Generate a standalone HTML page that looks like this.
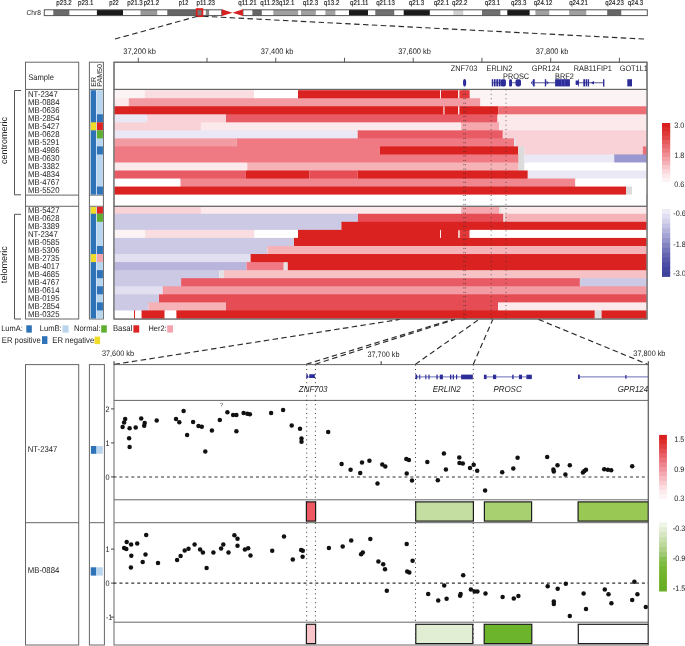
<!DOCTYPE html>
<html><head><meta charset="utf-8"><title>figure</title>
<style>
html,body{margin:0;padding:0;background:#fff;}
body{width:685px;height:646px;overflow:hidden;}
svg{display:block;font-family:"Liberation Sans", sans-serif;will-change:transform;text-rendering:geometricPrecision;}
</style></head>
<body>
<svg width="685" height="646" viewBox="0 0 685 646">
<rect x="0" y="0" width="685" height="646" fill="#fff"/>
<rect x="43.80" y="9.80" width="9.50" height="5.80" fill="#fff" />
<rect x="53.30" y="9.80" width="16.30" height="5.80" fill="#6a6a6a" />
<rect x="69.60" y="9.80" width="27.30" height="5.80" fill="#fff" />
<rect x="96.90" y="9.80" width="26.10" height="5.80" fill="#1a1a1a" />
<rect x="123.00" y="9.80" width="17.50" height="5.80" fill="#fff" />
<rect x="140.50" y="9.80" width="17.00" height="5.80" fill="#999" />
<rect x="157.50" y="9.80" width="9.80" height="5.80" fill="#fff" />
<rect x="167.30" y="9.80" width="28.70" height="5.80" fill="#666" />
<rect x="196.00" y="9.80" width="7.00" height="5.80" fill="#777" />
<rect x="203.00" y="9.80" width="2.80" height="5.80" fill="#fff" />
<rect x="205.80" y="9.80" width="3.50" height="5.80" fill="#888" />
<rect x="209.30" y="9.80" width="12.50" height="5.80" fill="#fff" />
<rect x="242.90" y="9.80" width="9.50" height="5.80" fill="#fff" />
<rect x="252.40" y="9.80" width="9.50" height="5.80" fill="#666" />
<rect x="261.90" y="9.80" width="11.40" height="5.80" fill="#fff" />
<rect x="273.30" y="9.80" width="25.10" height="5.80" fill="#a0a0a0" />
<rect x="298.40" y="9.80" width="2.60" height="5.80" fill="#fff" />
<rect x="301.00" y="9.80" width="14.90" height="5.80" fill="#a0a0a0" />
<rect x="315.90" y="9.80" width="9.50" height="5.80" fill="#fff" />
<rect x="325.40" y="9.80" width="10.20" height="5.80" fill="#a0a0a0" />
<rect x="335.60" y="9.80" width="13.40" height="5.80" fill="#fff" />
<rect x="349.00" y="9.80" width="19.00" height="5.80" fill="#1a1a1a" />
<rect x="368.00" y="9.80" width="7.30" height="5.80" fill="#fff" />
<rect x="375.30" y="9.80" width="19.20" height="5.80" fill="#707070" />
<rect x="394.50" y="9.80" width="9.20" height="5.80" fill="#fff" />
<rect x="403.70" y="9.80" width="26.20" height="5.80" fill="#1a1a1a" />
<rect x="429.90" y="9.80" width="23.40" height="5.80" fill="#fff" />
<rect x="453.30" y="9.80" width="10.20" height="5.80" fill="#cfcfcf" />
<rect x="463.50" y="9.80" width="18.50" height="5.80" fill="#fff" />
<rect x="482.00" y="9.80" width="18.60" height="5.80" fill="#707070" />
<rect x="500.60" y="9.80" width="6.70" height="5.80" fill="#fff" />
<rect x="507.30" y="9.80" width="22.50" height="5.80" fill="#1a1a1a" />
<rect x="529.80" y="9.80" width="5.60" height="5.80" fill="#fff" />
<rect x="535.40" y="9.80" width="14.10" height="5.80" fill="#a0a0a0" />
<rect x="549.50" y="9.80" width="19.70" height="5.80" fill="#fff" />
<rect x="569.20" y="9.80" width="17.30" height="5.80" fill="#a0a0a0" />
<rect x="586.50" y="9.80" width="20.70" height="5.80" fill="#fff" />
<rect x="607.20" y="9.80" width="14.30" height="5.80" fill="#666" />
<rect x="621.50" y="9.80" width="26.30" height="5.80" fill="#fff" />
<rect x="44.3" y="9.80" width="177.50" height="5.80" fill="none" stroke="#555" stroke-width="1"/>
<rect x="242.9" y="9.80" width="404.40" height="5.80" fill="none" stroke="#555" stroke-width="1"/>
<polygon points="221.8,9.3 232.5,12.7 221.8,16.1" fill="#d42020"/>
<polygon points="242.9,9.3 232.5,12.7 242.9,16.1" fill="#d42020"/>
<rect x="196.7" y="9.1" width="5.7" height="7.1" fill="none" stroke="#dd2020" stroke-width="1.8"/>
<text transform="translate(26.60,15.30) scale(1,1.09)" font-size="6.6" text-anchor="start" fill="#222" >Chr8</text>
<text transform="translate(64.00,5.00) scale(1,1.09)" font-size="6.5" text-anchor="middle" fill="#111" stroke="#111" stroke-width="0.12" textLength="15.5" lengthAdjust="spacingAndGlyphs">p23.2</text>
<text transform="translate(85.70,5.00) scale(1,1.09)" font-size="6.5" text-anchor="middle" fill="#111" stroke="#111" stroke-width="0.12" textLength="15.5" lengthAdjust="spacingAndGlyphs">p23.1</text>
<text transform="translate(114.00,5.00) scale(1,1.09)" font-size="6.5" text-anchor="middle" fill="#111" stroke="#111" stroke-width="0.12" textLength="9.5" lengthAdjust="spacingAndGlyphs">p22</text>
<text transform="translate(135.00,5.00) scale(1,1.09)" font-size="6.5" text-anchor="middle" fill="#111" stroke="#111" stroke-width="0.12" textLength="15.5" lengthAdjust="spacingAndGlyphs">p21.3</text>
<text transform="translate(151.40,5.00) scale(1,1.09)" font-size="6.5" text-anchor="middle" fill="#111" stroke="#111" stroke-width="0.12" textLength="15.5" lengthAdjust="spacingAndGlyphs">p21.2</text>
<text transform="translate(183.60,5.00) scale(1,1.09)" font-size="6.5" text-anchor="middle" fill="#111" stroke="#111" stroke-width="0.12" textLength="9.5" lengthAdjust="spacingAndGlyphs">p12</text>
<text transform="translate(205.80,5.00) scale(1,1.09)" font-size="6.5" text-anchor="middle" fill="#111" stroke="#111" stroke-width="0.12" textLength="18.5" lengthAdjust="spacingAndGlyphs">p11.23</text>
<text transform="translate(247.50,5.00) scale(1,1.09)" font-size="6.5" text-anchor="middle" fill="#111" stroke="#111" stroke-width="0.12" textLength="18.5" lengthAdjust="spacingAndGlyphs">q11.21</text>
<text transform="translate(269.60,5.00) scale(1,1.09)" font-size="6.5" text-anchor="middle" fill="#111" stroke="#111" stroke-width="0.12" textLength="18.5" lengthAdjust="spacingAndGlyphs">q11.23</text>
<text transform="translate(286.70,5.00) scale(1,1.09)" font-size="6.5" text-anchor="middle" fill="#111" stroke="#111" stroke-width="0.12" textLength="15.5" lengthAdjust="spacingAndGlyphs">q12.1</text>
<text transform="translate(310.40,5.00) scale(1,1.09)" font-size="6.5" text-anchor="middle" fill="#111" stroke="#111" stroke-width="0.12" textLength="15.5" lengthAdjust="spacingAndGlyphs">q12.3</text>
<text transform="translate(331.60,5.00) scale(1,1.09)" font-size="6.5" text-anchor="middle" fill="#111" stroke="#111" stroke-width="0.12" textLength="15.5" lengthAdjust="spacingAndGlyphs">q13.2</text>
<text transform="translate(359.30,5.00) scale(1,1.09)" font-size="6.5" text-anchor="middle" fill="#111" stroke="#111" stroke-width="0.12" textLength="18.5" lengthAdjust="spacingAndGlyphs">q21.11</text>
<text transform="translate(385.50,5.00) scale(1,1.09)" font-size="6.5" text-anchor="middle" fill="#111" stroke="#111" stroke-width="0.12" textLength="18.5" lengthAdjust="spacingAndGlyphs">q21.13</text>
<text transform="translate(416.50,5.00) scale(1,1.09)" font-size="6.5" text-anchor="middle" fill="#111" stroke="#111" stroke-width="0.12" textLength="15.5" lengthAdjust="spacingAndGlyphs">q21.3</text>
<text transform="translate(441.40,5.00) scale(1,1.09)" font-size="6.5" text-anchor="middle" fill="#111" stroke="#111" stroke-width="0.12" textLength="15.5" lengthAdjust="spacingAndGlyphs">q22.1</text>
<text transform="translate(459.80,5.00) scale(1,1.09)" font-size="6.5" text-anchor="middle" fill="#111" stroke="#111" stroke-width="0.12" textLength="15.5" lengthAdjust="spacingAndGlyphs">q22.2</text>
<text transform="translate(492.50,5.00) scale(1,1.09)" font-size="6.5" text-anchor="middle" fill="#111" stroke="#111" stroke-width="0.12" textLength="15.5" lengthAdjust="spacingAndGlyphs">q23.1</text>
<text transform="translate(518.70,5.00) scale(1,1.09)" font-size="6.5" text-anchor="middle" fill="#111" stroke="#111" stroke-width="0.12" textLength="15.5" lengthAdjust="spacingAndGlyphs">q23.3</text>
<text transform="translate(543.00,5.00) scale(1,1.09)" font-size="6.5" text-anchor="middle" fill="#111" stroke="#111" stroke-width="0.12" textLength="18.5" lengthAdjust="spacingAndGlyphs">q24.12</text>
<text transform="translate(578.50,5.00) scale(1,1.09)" font-size="6.5" text-anchor="middle" fill="#111" stroke="#111" stroke-width="0.12" textLength="18.5" lengthAdjust="spacingAndGlyphs">q24.21</text>
<text transform="translate(614.60,5.00) scale(1,1.09)" font-size="6.5" text-anchor="middle" fill="#111" stroke="#111" stroke-width="0.12" textLength="18.5" lengthAdjust="spacingAndGlyphs">q24.23</text>
<text transform="translate(635.50,5.00) scale(1,1.09)" font-size="6.5" text-anchor="middle" fill="#111" stroke="#111" stroke-width="0.12" textLength="15.5" lengthAdjust="spacingAndGlyphs">q24.3</text>
<line x1="197.50" y1="16.30" x2="114.30" y2="39.20" stroke="#2a2a2a" stroke-width="1.15" stroke-dasharray="5.5,3.4" />
<line x1="203.00" y1="16.30" x2="647.50" y2="39.20" stroke="#2a2a2a" stroke-width="1.15" stroke-dasharray="5.5,3.4" />
<line x1="138.30" y1="57.80" x2="138.30" y2="62.50" stroke="#444" stroke-width="0.9" />
<line x1="207.03" y1="57.80" x2="207.03" y2="62.50" stroke="#444" stroke-width="0.9" />
<line x1="275.76" y1="57.80" x2="275.76" y2="62.50" stroke="#444" stroke-width="0.9" />
<line x1="344.49" y1="57.80" x2="344.49" y2="62.50" stroke="#444" stroke-width="0.9" />
<line x1="413.22" y1="57.80" x2="413.22" y2="62.50" stroke="#444" stroke-width="0.9" />
<line x1="481.95" y1="57.80" x2="481.95" y2="62.50" stroke="#444" stroke-width="0.9" />
<line x1="550.68" y1="57.80" x2="550.68" y2="62.50" stroke="#444" stroke-width="0.9" />
<line x1="619.41" y1="57.80" x2="619.41" y2="62.50" stroke="#444" stroke-width="0.9" />
<text transform="translate(139.60,53.80) scale(1,1.09)" font-size="7.45" text-anchor="middle" fill="#222" >37,200 kb</text>
<text transform="translate(277.06,53.80) scale(1,1.09)" font-size="7.45" text-anchor="middle" fill="#222" >37,400 kb</text>
<text transform="translate(414.52,53.80) scale(1,1.09)" font-size="7.45" text-anchor="middle" fill="#222" >37,600 kb</text>
<text transform="translate(551.98,53.80) scale(1,1.09)" font-size="7.45" text-anchor="middle" fill="#222" >37,800 kb</text>
<rect x="25.50" y="62.20" width="53.20" height="256.80" fill="none" stroke="#666" stroke-width="1"/>
<line x1="25.50" y1="89.40" x2="78.70" y2="89.40" stroke="#666" stroke-width="1" />
<line x1="25.50" y1="195.10" x2="78.70" y2="195.10" stroke="#666" stroke-width="1" />
<line x1="25.50" y1="206.30" x2="78.70" y2="206.30" stroke="#666" stroke-width="1" />
<rect x="89.40" y="62.20" width="14.00" height="256.80" fill="none" stroke="#666" stroke-width="1"/>
<line x1="89.40" y1="89.40" x2="103.40" y2="89.40" stroke="#666" stroke-width="1" />
<line x1="89.40" y1="195.10" x2="103.40" y2="195.10" stroke="#666" stroke-width="1" />
<line x1="89.40" y1="206.30" x2="103.40" y2="206.30" stroke="#666" stroke-width="1" />
<rect x="114.00" y="62.20" width="533.00" height="256.80" fill="none" stroke="#666" stroke-width="1"/>
<line x1="114.00" y1="89.40" x2="647.00" y2="89.40" stroke="#666" stroke-width="1" />
<line x1="114.00" y1="206.30" x2="647.00" y2="206.30" stroke="#666" stroke-width="1" />
<text transform="translate(28.20,80.00) scale(1,1.09)" font-size="7.6" text-anchor="start" fill="#222" >Sample</text>
<text transform="translate(95.8,86.8) rotate(-90)" font-size="7.1" fill="#222">ER</text>
<text transform="translate(102.2,86.8) rotate(-90)" font-size="7.1" fill="#222">PAM50</text>
<text transform="translate(28.00,96.55) scale(1,1.09)" font-size="7.75" text-anchor="start" fill="#222" >NT-2347</text>
<text transform="translate(28.00,104.58) scale(1,1.09)" font-size="7.75" text-anchor="start" fill="#222" >MB-0884</text>
<text transform="translate(28.00,112.61) scale(1,1.09)" font-size="7.75" text-anchor="start" fill="#222" >MB-0636</text>
<text transform="translate(28.00,120.64) scale(1,1.09)" font-size="7.75" text-anchor="start" fill="#222" >MB-2854</text>
<text transform="translate(28.00,128.67) scale(1,1.09)" font-size="7.75" text-anchor="start" fill="#222" >MB-5427</text>
<text transform="translate(28.00,136.70) scale(1,1.09)" font-size="7.75" text-anchor="start" fill="#222" >MB-0628</text>
<text transform="translate(28.00,144.73) scale(1,1.09)" font-size="7.75" text-anchor="start" fill="#222" >MB-5291</text>
<text transform="translate(28.00,152.76) scale(1,1.09)" font-size="7.75" text-anchor="start" fill="#222" >MB-4986</text>
<text transform="translate(28.00,160.79) scale(1,1.09)" font-size="7.75" text-anchor="start" fill="#222" >MB-0630</text>
<text transform="translate(28.00,168.82) scale(1,1.09)" font-size="7.75" text-anchor="start" fill="#222" >MB-3382</text>
<text transform="translate(28.00,176.85) scale(1,1.09)" font-size="7.75" text-anchor="start" fill="#222" >MB-4834</text>
<text transform="translate(28.00,184.88) scale(1,1.09)" font-size="7.75" text-anchor="start" fill="#222" >MB-4767</text>
<text transform="translate(28.00,192.91) scale(1,1.09)" font-size="7.75" text-anchor="start" fill="#222" >MB-5520</text>
<text transform="translate(28.00,212.50) scale(1,1.09)" font-size="7.75" text-anchor="start" fill="#222" >MB-5427</text>
<text transform="translate(28.00,220.56) scale(1,1.09)" font-size="7.75" text-anchor="start" fill="#222" >MB-0628</text>
<text transform="translate(28.00,228.61) scale(1,1.09)" font-size="7.75" text-anchor="start" fill="#222" >MB-3389</text>
<text transform="translate(28.00,236.67) scale(1,1.09)" font-size="7.75" text-anchor="start" fill="#222" >NT-2347</text>
<text transform="translate(28.00,244.72) scale(1,1.09)" font-size="7.75" text-anchor="start" fill="#222" >MB-0585</text>
<text transform="translate(28.00,252.78) scale(1,1.09)" font-size="7.75" text-anchor="start" fill="#222" >MB-5306</text>
<text transform="translate(28.00,260.84) scale(1,1.09)" font-size="7.75" text-anchor="start" fill="#222" >MB-2735</text>
<text transform="translate(28.00,268.89) scale(1,1.09)" font-size="7.75" text-anchor="start" fill="#222" >MB-4017</text>
<text transform="translate(28.00,276.95) scale(1,1.09)" font-size="7.75" text-anchor="start" fill="#222" >MB-4685</text>
<text transform="translate(28.00,285.00) scale(1,1.09)" font-size="7.75" text-anchor="start" fill="#222" >MB-4767</text>
<text transform="translate(28.00,293.06) scale(1,1.09)" font-size="7.75" text-anchor="start" fill="#222" >MB-0614</text>
<text transform="translate(28.00,301.12) scale(1,1.09)" font-size="7.75" text-anchor="start" fill="#222" >MB-0195</text>
<text transform="translate(28.00,309.17) scale(1,1.09)" font-size="7.75" text-anchor="start" fill="#222" >MB-2854</text>
<text transform="translate(28.00,317.23) scale(1,1.09)" font-size="7.75" text-anchor="start" fill="#222" >MB-0325</text>
<rect x="90.00" y="90.20" width="0.70" height="104.39" fill="#d2e3f2" />
<rect x="90.70" y="90.20" width="5.30" height="104.39" fill="#2e72b8" />
<rect x="96.00" y="90.20" width="0.90" height="104.39" fill="#d2e3f2" />
<rect x="96.90" y="90.20" width="6.00" height="104.39" fill="#b9d6ee" />
<rect x="96.90" y="114.29" width="6.00" height="8.03" fill="#2e72b8" />
<rect x="90.70" y="122.32" width="5.30" height="8.03" fill="#f0dc28" />
<rect x="96.90" y="122.32" width="6.00" height="8.03" fill="#dc2424" />
<rect x="96.90" y="130.35" width="6.00" height="8.03" fill="#5fae30" />
<rect x="96.90" y="146.41" width="6.00" height="8.03" fill="#2e72b8" />
<rect x="96.90" y="186.56" width="6.00" height="8.03" fill="#2e72b8" />
<rect x="90.00" y="206.80" width="0.70" height="111.68" fill="#d2e3f2" />
<rect x="90.70" y="206.80" width="5.30" height="111.68" fill="#2e72b8" />
<rect x="96.00" y="206.80" width="0.90" height="111.68" fill="#d2e3f2" />
<rect x="96.90" y="206.80" width="6.00" height="111.68" fill="#b9d6ee" />
<rect x="90.70" y="206.80" width="5.30" height="6.96" fill="#f0dc28" />
<rect x="96.90" y="206.80" width="6.00" height="6.96" fill="#dc2424" />
<rect x="96.90" y="213.76" width="6.00" height="8.06" fill="#5fae30" />
<rect x="96.90" y="245.98" width="6.00" height="8.06" fill="#2e72b8" />
<rect x="90.70" y="254.04" width="5.30" height="8.06" fill="#f0dc28" />
<rect x="96.90" y="254.04" width="6.00" height="8.06" fill="#f4a4ac" />
<rect x="96.90" y="270.15" width="6.00" height="8.06" fill="#2e72b8" />
<rect x="96.90" y="286.26" width="6.00" height="8.06" fill="#2e72b8" />
<rect x="96.90" y="302.37" width="6.00" height="8.06" fill="#2e72b8" />
<path d="M21.0,90.50 H14.5 V194.80 H21.0" fill="none" stroke="#555" stroke-width="1"/>
<path d="M21.0,214.30 H14.5 V319.00 H21.0" fill="none" stroke="#555" stroke-width="1"/>
<text transform="translate(7.1,140.6) rotate(-90)" font-size="9.0" text-anchor="middle" fill="#222">centromeric</text>
<text transform="translate(7.1,264.7) rotate(-90)" font-size="9.1" text-anchor="middle" fill="#222">telomeric</text>
<rect x="114.50" y="90.20" width="30.20" height="9.03" fill="#fcf3f4" />
<rect x="144.70" y="90.20" width="109.30" height="9.03" fill="#f9dde0" />
<rect x="254.00" y="90.20" width="44.00" height="9.03" fill="#ffffff" />
<rect x="298.00" y="90.20" width="142.10" height="9.03" fill="#da2320" />
<rect x="440.10" y="90.20" width="0.90" height="9.03" fill="#f4eeee" />
<rect x="441.00" y="90.20" width="17.20" height="9.03" fill="#da2320" />
<rect x="458.20" y="90.20" width="1.20" height="9.03" fill="#f4eeee" />
<rect x="459.40" y="90.20" width="10.40" height="9.03" fill="#e23a3a" />
<rect x="469.80" y="90.20" width="176.70" height="9.03" fill="#fcf3f4" />
<rect x="114.50" y="98.23" width="14.30" height="9.03" fill="#fbe9eb" />
<rect x="128.80" y="98.23" width="351.60" height="9.03" fill="#f39ba2" />
<rect x="480.40" y="98.23" width="166.10" height="9.03" fill="#fcf3f4" />
<rect x="114.50" y="106.26" width="329.10" height="9.03" fill="#da2320" />
<rect x="443.60" y="106.26" width="0.90" height="9.03" fill="#f4eeee" />
<rect x="444.50" y="106.26" width="13.70" height="9.03" fill="#da2320" />
<rect x="458.20" y="106.26" width="1.20" height="9.03" fill="#f4eeee" />
<rect x="459.40" y="106.26" width="39.00" height="9.03" fill="#da2320" />
<rect x="498.40" y="106.26" width="148.10" height="9.03" fill="#ec6f76" />
<rect x="114.50" y="114.29" width="32.70" height="9.03" fill="#e9e8f4" />
<rect x="147.20" y="114.29" width="78.80" height="9.03" fill="#f8d2d6" />
<rect x="226.00" y="114.29" width="271.50" height="9.03" fill="#e85b65" />
<rect x="497.50" y="114.29" width="149.00" height="9.03" fill="#fbe9eb" />
<rect x="114.50" y="122.32" width="86.40" height="9.03" fill="#f8d2d6" />
<rect x="200.90" y="122.32" width="260.30" height="9.03" fill="#fbe9eb" />
<rect x="461.20" y="122.32" width="38.00" height="9.03" fill="#f5a8ad" />
<rect x="499.20" y="122.32" width="147.30" height="9.03" fill="#fbe9eb" />
<rect x="114.50" y="130.35" width="243.20" height="9.03" fill="#e9e8f4" />
<rect x="357.70" y="130.35" width="145.10" height="9.03" fill="#e85b65" />
<rect x="502.80" y="130.35" width="143.70" height="9.03" fill="#f8d2d6" />
<rect x="114.50" y="138.38" width="122.20" height="9.03" fill="#f39ba2" />
<rect x="236.70" y="138.38" width="277.30" height="9.03" fill="#ef7a83" />
<rect x="514.00" y="138.38" width="2.00" height="9.03" fill="#e6e2e4" />
<rect x="516.00" y="138.38" width="130.50" height="9.03" fill="#f8d2d6" />
<rect x="114.50" y="146.41" width="265.30" height="9.03" fill="#ef7a83" />
<rect x="379.80" y="146.41" width="138.40" height="9.03" fill="#da2320" />
<rect x="518.20" y="146.41" width="6.30" height="9.03" fill="#dcdcdc" />
<rect x="524.50" y="146.41" width="118.30" height="9.03" fill="#f8d2d6" />
<rect x="642.80" y="146.41" width="3.70" height="9.03" fill="#ec6f76" />
<rect x="114.50" y="154.44" width="404.10" height="9.03" fill="#ef7a83" />
<rect x="518.60" y="154.44" width="5.90" height="9.03" fill="#dcdcdc" />
<rect x="524.50" y="154.44" width="89.70" height="9.03" fill="#e9e8f4" />
<rect x="614.20" y="154.44" width="32.30" height="9.03" fill="#9a98d0" />
<rect x="114.50" y="162.47" width="132.80" height="9.03" fill="#fbe9eb" />
<rect x="247.30" y="162.47" width="271.30" height="9.03" fill="#f5b3b7" />
<rect x="518.60" y="162.47" width="5.90" height="9.03" fill="#dcdcdc" />
<rect x="524.50" y="162.47" width="122.00" height="9.03" fill="#ffffff" />
<rect x="114.50" y="170.50" width="131.40" height="9.03" fill="#e85b65" />
<rect x="245.90" y="170.50" width="63.40" height="9.03" fill="#da2320" />
<rect x="309.30" y="170.50" width="48.40" height="9.03" fill="#e54c54" />
<rect x="357.70" y="170.50" width="170.10" height="9.03" fill="#da2320" />
<rect x="527.80" y="170.50" width="118.70" height="9.03" fill="#e9e8f4" />
<rect x="114.50" y="178.53" width="66.00" height="9.03" fill="#ffffff" />
<rect x="180.50" y="178.53" width="394.90" height="9.03" fill="#f0868e" />
<rect x="575.40" y="178.53" width="71.10" height="9.03" fill="#ffffff" />
<rect x="114.50" y="186.56" width="511.50" height="8.03" fill="#da2320" />
<rect x="626.00" y="186.56" width="6.20" height="8.03" fill="#dcdcdc" />
<rect x="632.20" y="186.56" width="14.30" height="8.03" fill="#ffffff" />
<rect x="114.50" y="206.80" width="86.40" height="7.96" fill="#f8d2d6" />
<rect x="200.90" y="206.80" width="260.30" height="7.96" fill="#fbe9eb" />
<rect x="461.20" y="206.80" width="38.20" height="7.96" fill="#f5a8ad" />
<rect x="499.40" y="206.80" width="2.00" height="7.96" fill="#e6e2e4" />
<rect x="501.40" y="206.80" width="145.10" height="7.96" fill="#fbe9eb" />
<rect x="114.50" y="213.76" width="243.40" height="9.06" fill="#ccc9e5" />
<rect x="357.90" y="213.76" width="145.60" height="9.06" fill="#e54c54" />
<rect x="503.50" y="213.76" width="1.50" height="9.06" fill="#e6e2e4" />
<rect x="505.00" y="213.76" width="141.50" height="9.06" fill="#f5b3b7" />
<rect x="114.50" y="221.81" width="226.90" height="9.06" fill="#ccc9e5" />
<rect x="341.40" y="221.81" width="305.10" height="9.06" fill="#da2320" />
<rect x="114.50" y="229.87" width="30.60" height="9.06" fill="#fcf3f4" />
<rect x="145.10" y="229.87" width="109.40" height="9.06" fill="#f9dde0" />
<rect x="254.50" y="229.87" width="43.50" height="9.06" fill="#ffffff" />
<rect x="298.00" y="229.87" width="142.10" height="9.06" fill="#da2320" />
<rect x="440.10" y="229.87" width="0.90" height="9.06" fill="#f4eeee" />
<rect x="441.00" y="229.87" width="17.50" height="9.06" fill="#da2320" />
<rect x="458.50" y="229.87" width="1.20" height="9.06" fill="#f4eeee" />
<rect x="459.70" y="229.87" width="10.00" height="9.06" fill="#e23a3a" />
<rect x="469.70" y="229.87" width="176.80" height="9.06" fill="#ffffff" />
<rect x="114.50" y="237.92" width="179.50" height="9.06" fill="#ccc9e5" />
<rect x="294.00" y="237.92" width="352.50" height="9.06" fill="#da2320" />
<rect x="114.50" y="245.98" width="152.90" height="9.06" fill="#ccc9e5" />
<rect x="267.40" y="245.98" width="379.10" height="9.06" fill="#f5b3b7" />
<rect x="114.50" y="254.04" width="136.10" height="9.06" fill="#e2e0f0" />
<rect x="250.60" y="254.04" width="395.90" height="9.06" fill="#da2320" />
<rect x="114.50" y="262.09" width="132.00" height="9.06" fill="#b8b4dc" />
<rect x="246.50" y="262.09" width="37.20" height="9.06" fill="#ef7a83" />
<rect x="283.70" y="262.09" width="4.10" height="9.06" fill="#e6e2e4" />
<rect x="287.80" y="262.09" width="358.70" height="9.06" fill="#da2320" />
<rect x="114.50" y="270.15" width="104.80" height="9.06" fill="#ccc9e5" />
<rect x="219.30" y="270.15" width="4.70" height="9.06" fill="#e6e2e4" />
<rect x="224.00" y="270.15" width="422.50" height="9.06" fill="#f7c2c6" />
<rect x="114.50" y="278.20" width="66.60" height="9.06" fill="#ccc9e5" />
<rect x="181.10" y="278.20" width="398.80" height="9.06" fill="#e85b65" />
<rect x="579.90" y="278.20" width="66.60" height="9.06" fill="#ccc9e5" />
<rect x="114.50" y="286.26" width="48.20" height="9.06" fill="#e2e0f0" />
<rect x="162.70" y="286.26" width="483.80" height="9.06" fill="#f39ba2" />
<rect x="114.50" y="294.32" width="44.50" height="9.06" fill="#ccc9e5" />
<rect x="159.00" y="294.32" width="487.50" height="9.06" fill="#e54c54" />
<rect x="114.50" y="302.37" width="33.90" height="9.06" fill="#ccc9e5" />
<rect x="148.40" y="302.37" width="77.60" height="9.06" fill="#f5b3b7" />
<rect x="226.00" y="302.37" width="272.00" height="9.06" fill="#e54c54" />
<rect x="498.00" y="302.37" width="148.50" height="9.06" fill="#fbe9eb" />
<rect x="114.50" y="310.43" width="19.50" height="8.06" fill="#ffffff" />
<rect x="134.00" y="310.43" width="1.20" height="8.06" fill="#da2320" />
<rect x="135.20" y="310.43" width="6.40" height="8.06" fill="#ffffff" />
<rect x="141.60" y="310.43" width="23.10" height="8.06" fill="#da2320" />
<rect x="164.70" y="310.43" width="11.70" height="8.06" fill="#ffffff" />
<rect x="176.40" y="310.43" width="418.40" height="8.06" fill="#da2320" />
<rect x="594.80" y="310.43" width="6.80" height="8.06" fill="#dcdcdc" />
<rect x="601.60" y="310.43" width="44.90" height="8.06" fill="#da2320" />
<rect x="114.00" y="62.20" width="533.00" height="256.80" fill="none" stroke="#666" stroke-width="1"/>
<line x1="114.00" y1="89.40" x2="647.00" y2="89.40" stroke="#666" stroke-width="1" />
<line x1="114.00" y1="206.30" x2="647.00" y2="206.30" stroke="#666" stroke-width="1" />
<line x1="463.80" y1="89.50" x2="463.80" y2="319.00" stroke="#333" stroke-width="0.8" stroke-dasharray="0.9,3.5" />
<line x1="465.40" y1="89.50" x2="465.40" y2="319.00" stroke="#333" stroke-width="0.8" stroke-dasharray="0.9,3.5" />
<line x1="491.20" y1="89.50" x2="491.20" y2="319.00" stroke="#333" stroke-width="0.8" stroke-dasharray="0.9,3.5" />
<line x1="506.00" y1="89.50" x2="506.00" y2="319.00" stroke="#333" stroke-width="0.8" stroke-dasharray="0.9,3.5" />
<text transform="translate(450.80,70.70) scale(1,1.09)" font-size="7.35" text-anchor="start" fill="#222" >ZNF703</text>
<text transform="translate(486.50,70.70) scale(1,1.09)" font-size="7.35" text-anchor="start" fill="#222" >ERLIN2</text>
<text transform="translate(503.00,78.50) scale(1,1.09)" font-size="7.35" text-anchor="start" fill="#222" >PROSC</text>
<text transform="translate(531.70,70.70) scale(1,1.09)" font-size="7.35" text-anchor="start" fill="#222" >GPR124</text>
<text transform="translate(555.00,78.50) scale(1,1.09)" font-size="7.35" text-anchor="start" fill="#222" >BRF2</text>
<text transform="translate(573.70,70.70) scale(1,1.09)" font-size="7.35" text-anchor="start" fill="#222" >RAB11FIP1</text>
<svg x="600" y="60" width="46.5" height="20" overflow="hidden">
<text transform="translate(19.70,10.70) scale(1,1.09)" font-size="7.35" text-anchor="start" fill="#222" >GOT1L1</text>
</svg>
<ellipse cx="464.6" cy="82.7" rx="1.6" ry="3.7" fill="#2d2d9a"/>
<line x1="491.80" y1="82.70" x2="506.00" y2="82.70" stroke="#7c7cac" stroke-width="1.2" />
<rect x="491.80" y="79.20" width="1.40" height="7.20" rx="0" fill="#2d2d9a"/>
<rect x="493.90" y="79.20" width="1.70" height="7.20" rx="0" fill="#2d2d9a"/>
<rect x="496.30" y="79.20" width="1.70" height="7.20" rx="0" fill="#2d2d9a"/>
<rect x="498.60" y="79.20" width="2.00" height="7.20" rx="0" fill="#2d2d9a"/>
<rect x="500.60" y="79.20" width="5.30" height="7.20" rx="1.6" fill="#2d2d9a"/>
<line x1="509.00" y1="82.70" x2="521.00" y2="82.70" stroke="#7c7cac" stroke-width="1.2" />
<rect x="509.10" y="79.20" width="2.90" height="7.20" rx="1.2" fill="#2d2d9a"/>
<rect x="515.50" y="79.20" width="5.50" height="7.20" rx="1.8" fill="#2d2d9a"/>
<line x1="531.00" y1="82.70" x2="555.00" y2="82.70" stroke="#7c7cac" stroke-width="1.3" />
<rect x="532.90" y="79.20" width="1.80" height="7.20" rx="0" fill="#2d2d9a"/>
<rect x="544.80" y="79.20" width="1.40" height="7.20" rx="0" fill="#2d2d9a"/>
<path d="M533,80.8 L531,82.7 L533,84.6" fill="none" stroke="#2d2d9a" stroke-width="0.8"/>
<path d="M546.6,80.6 L549.0,82.7 L546.6,84.8 Z" fill="#2d2d9a" opacity="0.75"/>
<rect x="555.10" y="79.20" width="14.80" height="7.20" rx="0" fill="#2d2d9a"/>
<line x1="561.60" y1="79.40" x2="561.60" y2="86.20" stroke="#5a5ac0" stroke-width="0.7" />
<line x1="564.70" y1="79.40" x2="564.70" y2="86.20" stroke="#5a5ac0" stroke-width="0.7" />
<line x1="575.70" y1="82.70" x2="603.50" y2="82.70" stroke="#7c7cac" stroke-width="1.3" />
<rect x="575.70" y="80.50" width="3.10" height="4.40" rx="0" fill="#2d2d9a"/>
<rect x="578.20" y="79.30" width="0.70" height="7.30" rx="0" fill="#2d2d9a"/>
<rect x="583.30" y="79.20" width="1.70" height="7.20" rx="0" fill="#2d2d9a"/>
<rect x="585.60" y="79.20" width="1.70" height="7.20" rx="0" fill="#2d2d9a"/>
<rect x="587.80" y="79.20" width="1.30" height="7.20" rx="0" fill="#2d2d9a"/>
<path d="M594,80.9 L590.7,82.7 L594,84.6 Z" fill="#2d2d9a"/>
<rect x="603.00" y="79.30" width="1.40" height="7.30" rx="0" fill="#2d2d9a"/>
<rect x="627.30" y="79.20" width="4.70" height="7.20" rx="0" fill="#2d2d9a"/>
<rect x="662.00" y="123.00" width="8.20" height="5.01" fill="#d9201e" />
<rect x="662.00" y="127.21" width="8.20" height="5.01" fill="#dc2c2a" />
<rect x="662.00" y="131.43" width="8.20" height="5.01" fill="#df3a3a" />
<rect x="662.00" y="135.64" width="8.20" height="5.01" fill="#e34848" />
<rect x="662.00" y="139.86" width="8.20" height="5.01" fill="#e65a5e" />
<rect x="662.00" y="144.07" width="8.20" height="5.01" fill="#ea6a70" />
<rect x="662.00" y="148.29" width="8.20" height="5.01" fill="#ed7c82" />
<rect x="662.00" y="152.50" width="8.20" height="5.01" fill="#f08e94" />
<rect x="662.00" y="156.71" width="8.20" height="5.01" fill="#f3a0a6" />
<rect x="662.00" y="160.93" width="8.20" height="5.01" fill="#f5b2b6" />
<rect x="662.00" y="165.14" width="8.20" height="5.01" fill="#f8c6ca" />
<rect x="662.00" y="169.36" width="8.20" height="5.01" fill="#fad8db" />
<rect x="662.00" y="173.57" width="8.20" height="5.01" fill="#fce8ea" />
<rect x="662.00" y="177.79" width="8.20" height="4.21" fill="#fdf2f3" />
<rect x="662.00" y="209.00" width="8.20" height="5.65" fill="#ecebf6" />
<rect x="662.00" y="213.85" width="8.20" height="5.65" fill="#e0dff1" />
<rect x="662.00" y="218.70" width="8.20" height="5.65" fill="#d3d2eb" />
<rect x="662.00" y="223.55" width="8.20" height="5.65" fill="#c4c3e4" />
<rect x="662.00" y="228.40" width="8.20" height="5.65" fill="#b4b3dc" />
<rect x="662.00" y="233.25" width="8.20" height="5.65" fill="#a4a3d4" />
<rect x="662.00" y="238.10" width="8.20" height="5.65" fill="#9493cb" />
<rect x="662.00" y="242.95" width="8.20" height="5.65" fill="#8483c2" />
<rect x="662.00" y="247.80" width="8.20" height="5.65" fill="#7474ba" />
<rect x="662.00" y="252.65" width="8.20" height="5.65" fill="#6566b2" />
<rect x="662.00" y="257.50" width="8.20" height="5.65" fill="#5758aa" />
<rect x="662.00" y="262.35" width="8.20" height="5.65" fill="#4b4ea4" />
<rect x="662.00" y="267.20" width="8.20" height="5.65" fill="#43469f" />
<rect x="662.00" y="272.05" width="8.20" height="4.85" fill="#3f429c" />
<text transform="translate(674.20,127.90) scale(1,1.09)" font-size="7.3" text-anchor="start" fill="#222" >3.0</text>
<text transform="translate(674.20,157.90) scale(1,1.09)" font-size="7.3" text-anchor="start" fill="#222" >1.8</text>
<text transform="translate(674.20,186.90) scale(1,1.09)" font-size="7.3" text-anchor="start" fill="#222" >0.6</text>
<text transform="translate(673.20,215.60) scale(1,1.09)" font-size="7.3" text-anchor="start" fill="#222" >-0.6</text>
<text transform="translate(673.20,246.60) scale(1,1.09)" font-size="7.3" text-anchor="start" fill="#222" >-1.8</text>
<text transform="translate(673.20,276.30) scale(1,1.09)" font-size="7.3" text-anchor="start" fill="#222" >-3.0</text>
<text transform="translate(1.20,331.40) scale(1,1.09)" font-size="7.45" text-anchor="start" fill="#222" >LumA:</text>
<rect x="26.30" y="325.30" width="5.50" height="7.30" fill="#2e72b8" />
<text transform="translate(39.70,331.40) scale(1,1.09)" font-size="7.6" text-anchor="start" fill="#222" >LumB:</text>
<rect x="62.50" y="325.30" width="6.10" height="7.30" fill="#b9d6ee" />
<text transform="translate(73.90,331.40) scale(1,1.09)" font-size="7.6" text-anchor="start" fill="#222" >Normal:</text>
<rect x="101.20" y="325.30" width="5.60" height="7.30" fill="#5fae30" />
<text transform="translate(112.90,331.40) scale(1,1.09)" font-size="7.75" text-anchor="start" fill="#222" >Basal</text>
<rect x="133.40" y="325.30" width="5.80" height="7.30" fill="#dc2424" />
<text transform="translate(148.50,331.40) scale(1,1.09)" font-size="7.4" text-anchor="start" fill="#222" >Her2:</text>
<rect x="167.20" y="325.30" width="5.80" height="7.30" fill="#f4a4ac" />
<text transform="translate(1.80,342.80) scale(1,1.09)" font-size="7.7" text-anchor="start" fill="#222" >ER positive</text>
<rect x="42.00" y="336.20" width="5.40" height="7.80" fill="#2e72b8" />
<text transform="translate(52.30,342.80) scale(1,1.09)" font-size="7.7" text-anchor="start" fill="#222" >ER negative</text>
<rect x="94.50" y="336.60" width="5.60" height="7.50" fill="#f0dc28" />
<line x1="114.30" y1="364.40" x2="399.50" y2="319.50" stroke="#2a2a2a" stroke-width="1.15" stroke-dasharray="5.5,3.4" />
<line x1="306.30" y1="364.20" x2="452.50" y2="319.50" stroke="#2a2a2a" stroke-width="1.15" stroke-dasharray="5.5,3.4" />
<line x1="315.20" y1="364.20" x2="455.00" y2="319.50" stroke="#2a2a2a" stroke-width="1.15" stroke-dasharray="5.5,3.4" />
<line x1="415.30" y1="364.40" x2="478.80" y2="319.50" stroke="#2a2a2a" stroke-width="1.15" stroke-dasharray="5.5,3.4" />
<line x1="473.20" y1="364.40" x2="492.80" y2="319.50" stroke="#2a2a2a" stroke-width="1.15" stroke-dasharray="5.5,3.4" />
<line x1="538.60" y1="319.50" x2="647.80" y2="364.40" stroke="#2a2a2a" stroke-width="1.15" stroke-dasharray="5.5,3.4" />
<rect x="25.50" y="364.60" width="53.20" height="280.40" fill="none" stroke="#666" stroke-width="1"/>
<line x1="25.50" y1="522.70" x2="78.70" y2="522.70" stroke="#666" stroke-width="1" />
<rect x="89.40" y="364.60" width="15.00" height="280.40" fill="none" stroke="#666" stroke-width="1"/>
<line x1="89.40" y1="522.70" x2="104.40" y2="522.70" stroke="#666" stroke-width="1" />
<rect x="114.00" y="364.60" width="534.30" height="280.40" fill="none" stroke="#666" stroke-width="1"/>
<line x1="114.00" y1="522.70" x2="648.30" y2="522.70" stroke="#666" stroke-width="1" />
<line x1="114.00" y1="400.40" x2="648.30" y2="400.40" stroke="#666" stroke-width="1" />
<line x1="114.00" y1="499.80" x2="648.30" y2="499.80" stroke="#666" stroke-width="1" />
<line x1="114.00" y1="622.20" x2="648.30" y2="622.20" stroke="#666" stroke-width="1" />
<line x1="114.00" y1="361.20" x2="114.00" y2="364.60" stroke="#333" stroke-width="1" />
<line x1="381.15" y1="361.20" x2="381.15" y2="364.60" stroke="#333" stroke-width="1" />
<line x1="648.30" y1="361.20" x2="648.30" y2="364.60" stroke="#333" stroke-width="1" />
<text transform="translate(118.00,356.40) scale(1,1.09)" font-size="7.3" text-anchor="middle" fill="#222" >37,600 kb</text>
<text transform="translate(383.50,356.60) scale(1,1.09)" font-size="7.3" text-anchor="middle" fill="#222" >37,700 kb</text>
<text transform="translate(649.40,356.40) scale(1,1.09)" font-size="7.3" text-anchor="middle" fill="#222" >37,800 kb</text>
<text transform="translate(27.80,451.60) scale(1,1.09)" font-size="7.7" text-anchor="start" fill="#222" >NT-2347</text>
<text transform="translate(27.80,573.30) scale(1,1.09)" font-size="7.75" text-anchor="start" fill="#222" >MB-0884</text>
<rect x="90.90" y="446.00" width="5.60" height="7.80" fill="#2e72b8" />
<rect x="96.50" y="446.00" width="6.30" height="7.80" fill="#b9d6ee" />
<rect x="90.70" y="567.30" width="5.60" height="8.30" fill="#2e72b8" />
<rect x="96.30" y="567.30" width="6.50" height="8.30" fill="#b9d6ee" />
<line x1="306.70" y1="364.60" x2="306.70" y2="645.00" stroke="#222" stroke-width="0.9" stroke-dasharray="1,3.4" />
<line x1="315.40" y1="364.60" x2="315.40" y2="645.00" stroke="#222" stroke-width="0.9" stroke-dasharray="1,3.4" />
<line x1="415.50" y1="364.60" x2="415.50" y2="645.00" stroke="#222" stroke-width="0.9" stroke-dasharray="1,3.4" />
<line x1="473.30" y1="364.60" x2="473.30" y2="645.00" stroke="#222" stroke-width="0.9" stroke-dasharray="1,3.4" />
<rect x="306.30" y="374.40" width="1.60" height="3.60" fill="#2d2d9a" />
<line x1="306.30" y1="376.90" x2="309.50" y2="376.90" stroke="#2d2d9a" stroke-width="0.7" />
<path d="M309.2,374.3 H315.6 L314.6,376.1 L315.6,377.9 H309.2 Z" fill="#2d2d9a"/>
<line x1="415.50" y1="376.90" x2="473.00" y2="376.90" stroke="#2d2d9a" stroke-width="0.7" />
<path d="M415.5,374.6 L417,374.6 L417.6,376.9 L417,379.2 L415.5,379.2 Z" fill="#2d2d9a"/>
<rect x="419.20" y="374.60" width="1.10" height="4.70" fill="#2d2d9a" />
<rect x="425.30" y="374.60" width="1.10" height="4.70" fill="#2d2d9a" />
<rect x="428.40" y="374.60" width="1.20" height="4.70" fill="#2d2d9a" />
<rect x="436.40" y="374.60" width="1.30" height="4.70" fill="#2d2d9a" />
<rect x="439.80" y="374.60" width="3.10" height="4.70" fill="#2d2d9a" />
<rect x="450.00" y="374.60" width="1.40" height="4.70" fill="#2d2d9a" />
<rect x="452.70" y="374.60" width="1.30" height="4.70" fill="#2d2d9a" />
<rect x="456.00" y="374.60" width="1.20" height="4.70" fill="#2d2d9a" />
<rect x="461.10" y="374.60" width="11.70" height="4.70" fill="#2d2d9a" />
<line x1="484.20" y1="376.90" x2="531.80" y2="376.90" stroke="#2d2d9a" stroke-width="0.7" />
<rect x="483.90" y="374.70" width="2.70" height="4.40" fill="#2d2d9a" />
<rect x="493.00" y="374.70" width="3.20" height="4.40" fill="#2d2d9a" />
<rect x="512.20" y="374.70" width="1.40" height="4.40" fill="#2d2d9a" />
<rect x="519.00" y="374.70" width="3.00" height="4.40" fill="#2d2d9a" />
<rect x="526.40" y="374.70" width="5.40" height="4.40" fill="#2d2d9a" />
<line x1="578.20" y1="376.90" x2="648.00" y2="376.90" stroke="#2d2d9a" stroke-width="0.7" />
<rect x="578.00" y="374.60" width="1.80" height="4.40" fill="#2d2d9a" />
<rect x="625.30" y="375.00" width="1.20" height="3.80" fill="#2d2d9a" />
<text transform="translate(298.80,391.90) scale(1,1.09)" font-size="7.95" text-anchor="start" fill="#222" font-style="italic">ZNF703</text>
<text transform="translate(432.80,391.90) scale(1,1.09)" font-size="7.95" text-anchor="start" fill="#222" font-style="italic">ERLIN2</text>
<text transform="translate(493.40,391.90) scale(1,1.09)" font-size="7.95" text-anchor="start" fill="#222" font-style="italic">PROSC</text>
<text transform="translate(617.70,391.90) scale(1,1.09)" font-size="7.95" text-anchor="start" fill="#222" font-style="italic">GPR124</text>
<line x1="111.00" y1="476.90" x2="114.00" y2="476.90" stroke="#333" stroke-width="0.9" />
<text transform="translate(109.60,479.50) scale(1,1.09)" font-size="7.3" text-anchor="end" fill="#222" >0</text>
<line x1="111.00" y1="442.90" x2="114.00" y2="442.90" stroke="#333" stroke-width="0.9" />
<text transform="translate(109.60,445.50) scale(1,1.09)" font-size="7.3" text-anchor="end" fill="#222" >1</text>
<line x1="111.00" y1="408.90" x2="114.00" y2="408.90" stroke="#333" stroke-width="0.9" />
<text transform="translate(109.60,411.50) scale(1,1.09)" font-size="7.3" text-anchor="end" fill="#222" >2</text>
<line x1="111.00" y1="617.10" x2="114.00" y2="617.10" stroke="#333" stroke-width="0.9" />
<text transform="translate(112.40,619.70) scale(1,1.09)" font-size="7.3" text-anchor="end" fill="#222" >-1</text>
<line x1="111.00" y1="583.10" x2="114.00" y2="583.10" stroke="#333" stroke-width="0.9" />
<text transform="translate(109.60,585.70) scale(1,1.09)" font-size="7.3" text-anchor="end" fill="#222" >0</text>
<line x1="111.00" y1="549.10" x2="114.00" y2="549.10" stroke="#333" stroke-width="0.9" />
<text transform="translate(109.60,551.70) scale(1,1.09)" font-size="7.3" text-anchor="end" fill="#222" >1</text>
<line x1="113.50" y1="477.00" x2="648.30" y2="477.00" stroke="#333" stroke-width="1.05" stroke-dasharray="3,2.937" />
<line x1="113.50" y1="583.10" x2="648.30" y2="583.10" stroke="#333" stroke-width="1.05" stroke-dasharray="3,2.937" />
<circle cx="122.6" cy="426.9" r="2.25" fill="#111"/>
<circle cx="124.1" cy="422.5" r="2.25" fill="#111"/>
<circle cx="125.2" cy="419.0" r="2.25" fill="#111"/>
<circle cx="129.6" cy="428.2" r="2.25" fill="#111"/>
<circle cx="129.1" cy="438.3" r="2.25" fill="#111"/>
<circle cx="129.6" cy="447.0" r="2.25" fill="#111"/>
<circle cx="135.7" cy="427.6" r="2.25" fill="#111"/>
<circle cx="141.2" cy="418.6" r="2.25" fill="#111"/>
<circle cx="144.7" cy="423.0" r="2.25" fill="#111"/>
<circle cx="144.2" cy="425.8" r="2.25" fill="#111"/>
<circle cx="156.7" cy="420.6" r="2.25" fill="#111"/>
<circle cx="176.0" cy="419.0" r="2.25" fill="#111"/>
<circle cx="179.3" cy="422.3" r="2.25" fill="#111"/>
<circle cx="183.6" cy="410.9" r="2.25" fill="#111"/>
<circle cx="187.1" cy="435.0" r="2.25" fill="#111"/>
<circle cx="193.1" cy="421.9" r="2.25" fill="#111"/>
<circle cx="198.5" cy="426.0" r="2.25" fill="#111"/>
<circle cx="201.8" cy="426.7" r="2.25" fill="#111"/>
<circle cx="205.3" cy="451.4" r="2.25" fill="#111"/>
<circle cx="211.9" cy="430.4" r="2.25" fill="#111"/>
<circle cx="219.8" cy="420.1" r="2.25" fill="#111"/>
<circle cx="227.4" cy="412.2" r="2.25" fill="#111"/>
<circle cx="233.1" cy="415.1" r="2.25" fill="#111"/>
<circle cx="236.4" cy="415.1" r="2.25" fill="#111"/>
<circle cx="236.4" cy="431.3" r="2.25" fill="#111"/>
<circle cx="243.6" cy="413.0" r="2.25" fill="#111"/>
<circle cx="247.3" cy="413.8" r="2.25" fill="#111"/>
<circle cx="249.9" cy="414.2" r="2.25" fill="#111"/>
<circle cx="271.1" cy="412.9" r="2.25" fill="#111"/>
<circle cx="283.1" cy="410.0" r="2.25" fill="#111"/>
<circle cx="291.7" cy="425.4" r="2.25" fill="#111"/>
<circle cx="300.0" cy="428.7" r="2.25" fill="#111"/>
<circle cx="301.5" cy="438.5" r="2.25" fill="#111"/>
<circle cx="301.5" cy="441.8" r="2.25" fill="#111"/>
<circle cx="328.2" cy="431.9" r="2.25" fill="#111"/>
<circle cx="341.6" cy="464.1" r="2.25" fill="#111"/>
<circle cx="350.6" cy="469.8" r="2.25" fill="#111"/>
<circle cx="362.0" cy="462.6" r="2.25" fill="#111"/>
<circle cx="360.2" cy="472.9" r="2.25" fill="#111"/>
<circle cx="369.4" cy="460.8" r="2.25" fill="#111"/>
<circle cx="377.5" cy="483.4" r="2.25" fill="#111"/>
<circle cx="382.3" cy="464.5" r="2.25" fill="#111"/>
<circle cx="385.3" cy="466.6" r="2.25" fill="#111"/>
<circle cx="406.3" cy="458.9" r="2.25" fill="#111"/>
<circle cx="408.9" cy="460.0" r="2.25" fill="#111"/>
<circle cx="406.7" cy="473.5" r="2.25" fill="#111"/>
<circle cx="412.0" cy="480.5" r="2.25" fill="#111"/>
<circle cx="427.3" cy="461.9" r="2.25" fill="#111"/>
<circle cx="443.9" cy="453.4" r="2.25" fill="#111"/>
<circle cx="445.9" cy="469.6" r="2.25" fill="#111"/>
<circle cx="437.8" cy="480.3" r="2.25" fill="#111"/>
<circle cx="459.3" cy="457.6" r="2.25" fill="#111"/>
<circle cx="459.5" cy="463.0" r="2.25" fill="#111"/>
<circle cx="462.8" cy="463.5" r="2.25" fill="#111"/>
<circle cx="470.0" cy="468.1" r="2.25" fill="#111"/>
<circle cx="473.7" cy="464.8" r="2.25" fill="#111"/>
<circle cx="477.2" cy="470.7" r="2.25" fill="#111"/>
<circle cx="485.1" cy="490.6" r="2.25" fill="#111"/>
<circle cx="502.2" cy="472.2" r="2.25" fill="#111"/>
<circle cx="513.3" cy="468.5" r="2.25" fill="#111"/>
<circle cx="517.6" cy="457.8" r="2.25" fill="#111"/>
<circle cx="547.2" cy="457.1" r="2.25" fill="#111"/>
<circle cx="553.4" cy="469.6" r="2.25" fill="#111"/>
<circle cx="553.8" cy="471.4" r="2.25" fill="#111"/>
<circle cx="557.5" cy="465.2" r="2.25" fill="#111"/>
<circle cx="565.4" cy="474.6" r="2.25" fill="#111"/>
<circle cx="569.8" cy="465.2" r="2.25" fill="#111"/>
<circle cx="582.9" cy="472.4" r="2.25" fill="#111"/>
<circle cx="584.4" cy="470.9" r="2.25" fill="#111"/>
<circle cx="586.0" cy="469.8" r="2.25" fill="#111"/>
<circle cx="604.2" cy="469.2" r="2.25" fill="#111"/>
<circle cx="607.9" cy="469.8" r="2.25" fill="#111"/>
<circle cx="611.2" cy="470.3" r="2.25" fill="#111"/>
<circle cx="632.2" cy="466.3" r="2.25" fill="#111"/>
<circle cx="124.1" cy="548.0" r="2.25" fill="#111"/>
<circle cx="126.3" cy="549.1" r="2.25" fill="#111"/>
<circle cx="126.7" cy="541.9" r="2.25" fill="#111"/>
<circle cx="131.1" cy="544.5" r="2.25" fill="#111"/>
<circle cx="131.3" cy="555.7" r="2.25" fill="#111"/>
<circle cx="130.9" cy="567.5" r="2.25" fill="#111"/>
<circle cx="137.2" cy="543.4" r="2.25" fill="#111"/>
<circle cx="142.7" cy="562.0" r="2.25" fill="#111"/>
<circle cx="145.5" cy="554.4" r="2.25" fill="#111"/>
<circle cx="146.2" cy="535.1" r="2.25" fill="#111"/>
<circle cx="158.0" cy="562.9" r="2.25" fill="#111"/>
<circle cx="177.1" cy="559.9" r="2.25" fill="#111"/>
<circle cx="180.6" cy="556.1" r="2.25" fill="#111"/>
<circle cx="184.7" cy="550.4" r="2.25" fill="#111"/>
<circle cx="188.5" cy="548.7" r="2.25" fill="#111"/>
<circle cx="194.6" cy="544.5" r="2.25" fill="#111"/>
<circle cx="200.1" cy="549.6" r="2.25" fill="#111"/>
<circle cx="202.9" cy="552.4" r="2.25" fill="#111"/>
<circle cx="206.6" cy="568.0" r="2.25" fill="#111"/>
<circle cx="213.4" cy="552.4" r="2.25" fill="#111"/>
<circle cx="221.1" cy="548.5" r="2.25" fill="#111"/>
<circle cx="223.3" cy="544.5" r="2.25" fill="#111"/>
<circle cx="228.5" cy="552.4" r="2.25" fill="#111"/>
<circle cx="234.4" cy="535.3" r="2.25" fill="#111"/>
<circle cx="237.5" cy="538.8" r="2.25" fill="#111"/>
<circle cx="237.5" cy="545.8" r="2.25" fill="#111"/>
<circle cx="244.9" cy="549.4" r="2.25" fill="#111"/>
<circle cx="248.2" cy="548.3" r="2.25" fill="#111"/>
<circle cx="250.5" cy="555.6" r="2.25" fill="#111"/>
<circle cx="272.2" cy="550.7" r="2.25" fill="#111"/>
<circle cx="284.0" cy="536.6" r="2.25" fill="#111"/>
<circle cx="292.8" cy="559.4" r="2.25" fill="#111"/>
<circle cx="301.1" cy="550.0" r="2.25" fill="#111"/>
<circle cx="302.8" cy="550.7" r="2.25" fill="#111"/>
<circle cx="302.6" cy="556.8" r="2.25" fill="#111"/>
<circle cx="328.9" cy="548.0" r="2.25" fill="#111"/>
<circle cx="342.7" cy="546.5" r="2.25" fill="#111"/>
<circle cx="351.2" cy="540.4" r="2.25" fill="#111"/>
<circle cx="361.1" cy="554.2" r="2.25" fill="#111"/>
<circle cx="362.8" cy="552.4" r="2.25" fill="#111"/>
<circle cx="370.3" cy="539.0" r="2.25" fill="#111"/>
<circle cx="378.4" cy="561.4" r="2.25" fill="#111"/>
<circle cx="383.2" cy="564.2" r="2.25" fill="#111"/>
<circle cx="385.0" cy="569.3" r="2.25" fill="#111"/>
<circle cx="386.8" cy="590.7" r="2.25" fill="#111"/>
<circle cx="406.7" cy="544.1" r="2.25" fill="#111"/>
<circle cx="412.6" cy="560.7" r="2.25" fill="#111"/>
<circle cx="407.2" cy="571.5" r="2.25" fill="#111"/>
<circle cx="409.3" cy="572.6" r="2.25" fill="#111"/>
<circle cx="428.2" cy="594.0" r="2.25" fill="#111"/>
<circle cx="438.2" cy="600.4" r="2.25" fill="#111"/>
<circle cx="444.2" cy="585.5" r="2.25" fill="#111"/>
<circle cx="446.6" cy="598.8" r="2.25" fill="#111"/>
<circle cx="460.1" cy="595.8" r="2.25" fill="#111"/>
<circle cx="460.6" cy="594.0" r="2.25" fill="#111"/>
<circle cx="463.2" cy="575.2" r="2.25" fill="#111"/>
<circle cx="470.9" cy="589.6" r="2.25" fill="#111"/>
<circle cx="474.6" cy="591.4" r="2.25" fill="#111"/>
<circle cx="477.4" cy="591.4" r="2.25" fill="#111"/>
<circle cx="485.5" cy="593.4" r="2.25" fill="#111"/>
<circle cx="502.6" cy="596.9" r="2.25" fill="#111"/>
<circle cx="513.8" cy="598.5" r="2.25" fill="#111"/>
<circle cx="518.4" cy="596.0" r="2.25" fill="#111"/>
<circle cx="547.7" cy="586.3" r="2.25" fill="#111"/>
<circle cx="553.8" cy="601.5" r="2.25" fill="#111"/>
<circle cx="553.8" cy="604.1" r="2.25" fill="#111"/>
<circle cx="557.7" cy="588.8" r="2.25" fill="#111"/>
<circle cx="565.8" cy="583.7" r="2.25" fill="#111"/>
<circle cx="569.8" cy="616.1" r="2.25" fill="#111"/>
<circle cx="583.6" cy="593.6" r="2.25" fill="#111"/>
<circle cx="586.0" cy="608.9" r="2.25" fill="#111"/>
<circle cx="604.8" cy="589.6" r="2.25" fill="#111"/>
<circle cx="608.5" cy="594.2" r="2.25" fill="#111"/>
<circle cx="611.4" cy="603.2" r="2.25" fill="#111"/>
<circle cx="632.2" cy="600.1" r="2.25" fill="#111"/>
<circle cx="634.4" cy="581.7" r="2.25" fill="#111"/>
<circle cx="637.4" cy="594.2" r="2.25" fill="#111"/>
<circle cx="645.8" cy="607.1" r="2.25" fill="#111"/>
<text transform="translate(221.50,407.00) scale(1,1.09)" font-size="5.5" text-anchor="middle" fill="#444" >?</text>
<rect x="306.40" y="501.90" width="9.20" height="19.20" fill="#ee5862" stroke="#1c1c1c" stroke-width="1.2" />
<rect x="415.70" y="501.90" width="57.70" height="19.20" fill="#c4dea2" stroke="#1c1c1c" stroke-width="1.2" />
<rect x="484.40" y="501.90" width="47.20" height="19.20" fill="#a8d070" stroke="#1c1c1c" stroke-width="1.2" />
<rect x="578.10" y="501.90" width="70.20" height="19.20" fill="#9ac854" stroke="#1c1c1c" stroke-width="1.2" />
<rect x="306.40" y="624.30" width="9.20" height="19.30" fill="#fac4cb" stroke="#1c1c1c" stroke-width="1.2" />
<rect x="415.80" y="624.30" width="57.00" height="19.30" fill="#e2eed4" stroke="#1c1c1c" stroke-width="1.2" />
<rect x="484.20" y="624.30" width="47.60" height="19.30" fill="#6cb42c" stroke="#1c1c1c" stroke-width="1.2" />
<rect x="578.30" y="624.30" width="70.00" height="19.30" fill="#ffffff" stroke="#1c1c1c" stroke-width="1.2" />
<line x1="648.30" y1="364.60" x2="648.30" y2="645.00" stroke="#666" stroke-width="1" />
<rect x="659.10" y="434.90" width="7.80" height="5.38" fill="#d9201e" />
<rect x="659.10" y="439.48" width="7.80" height="5.38" fill="#dd2e2c" />
<rect x="659.10" y="444.06" width="7.80" height="5.38" fill="#e03e3e" />
<rect x="659.10" y="448.64" width="7.80" height="5.38" fill="#e44e52" />
<rect x="659.10" y="453.21" width="7.80" height="5.38" fill="#e86066" />
<rect x="659.10" y="457.79" width="7.80" height="5.38" fill="#eb727a" />
<rect x="659.10" y="462.37" width="7.80" height="5.38" fill="#ee848c" />
<rect x="659.10" y="466.95" width="7.80" height="5.38" fill="#f1969e" />
<rect x="659.10" y="471.53" width="7.80" height="5.38" fill="#f4a8b0" />
<rect x="659.10" y="476.11" width="7.80" height="5.38" fill="#f7bac0" />
<rect x="659.10" y="480.69" width="7.80" height="5.38" fill="#f9ccd2" />
<rect x="659.10" y="485.26" width="7.80" height="5.38" fill="#fbdde2" />
<rect x="659.10" y="489.84" width="7.80" height="5.38" fill="#fcebee" />
<rect x="659.10" y="494.42" width="7.80" height="4.58" fill="#fdf4f6" />
<rect x="659.10" y="522.40" width="7.80" height="5.74" fill="#eef4e6" />
<rect x="659.10" y="527.34" width="7.80" height="5.74" fill="#e2edd4" />
<rect x="659.10" y="532.27" width="7.80" height="5.74" fill="#d6e6c2" />
<rect x="659.10" y="537.21" width="7.80" height="5.74" fill="#c9dfae" />
<rect x="659.10" y="542.14" width="7.80" height="5.74" fill="#bcd89a" />
<rect x="659.10" y="547.08" width="7.80" height="5.74" fill="#add086" />
<rect x="659.10" y="552.01" width="7.80" height="5.74" fill="#9ec872" />
<rect x="659.10" y="556.95" width="7.80" height="5.74" fill="#88bf50" />
<rect x="659.10" y="561.89" width="7.80" height="5.74" fill="#7dba40" />
<rect x="659.10" y="566.82" width="7.80" height="5.74" fill="#76b634" />
<rect x="659.10" y="571.76" width="7.80" height="5.74" fill="#72b42e" />
<rect x="659.10" y="576.69" width="7.80" height="5.74" fill="#6eb22a" />
<rect x="659.10" y="581.63" width="7.80" height="5.74" fill="#6bb028" />
<rect x="659.10" y="586.56" width="7.80" height="4.94" fill="#69af26" />
<text transform="translate(674.30,442.10) scale(1,1.09)" font-size="7.2" text-anchor="start" fill="#222" >1.5</text>
<text transform="translate(674.30,472.30) scale(1,1.09)" font-size="7.2" text-anchor="start" fill="#222" >0.9</text>
<text transform="translate(674.30,500.60) scale(1,1.09)" font-size="7.2" text-anchor="start" fill="#222" >0.3</text>
<text transform="translate(672.80,531.10) scale(1,1.09)" font-size="7.2" text-anchor="start" fill="#222" >-0.3</text>
<text transform="translate(672.80,561.30) scale(1,1.09)" font-size="7.2" text-anchor="start" fill="#222" >-0.9</text>
<text transform="translate(672.80,591.40) scale(1,1.09)" font-size="7.2" text-anchor="start" fill="#222" >-1.5</text>
</svg>
</body></html>
